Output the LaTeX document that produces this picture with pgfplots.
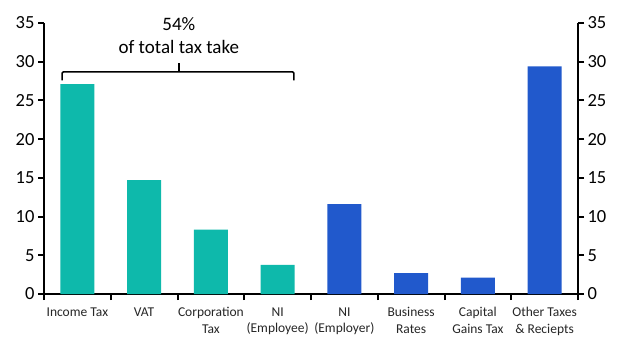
\documentclass[border=0pt]{standalone}
\usepackage{pgfplots}
\pgfplotsset{compat=1.18}
\usepackage{fontspec}
\setmainfont{Carlito}
\definecolor{tealbar}{RGB}{14,185,171}
\definecolor{bluebar}{RGB}{33,89,204}
\begin{document}
\begin{tikzpicture}
\useasboundingbox (0,0) rectangle (631pt,356pt);
\begin{axis}[
  at={(44pt,62pt)}, anchor=south west,
  scale only axis, width=534pt, height=271pt,
  xmin=-0.5, xmax=7.5, ymin=0, ymax=35,
  axis x line*=bottom, axis y line*=left,
  axis line style={line width=2.2pt, -},
  ytick={0,5,...,35},
  xtick={0,...,7},
  xticklabels={Income Tax, VAT, Corporation\\Tax, NI\\(Employee), NI\\(Employer), Business\\Rates, Capital\\Gains Tax, Other Taxes\\\& Reciepts},
  xticklabel style={align=center, font=\fontsize{13.5}{16.5}\selectfont, text=black!85, yshift=-4pt},
  yticklabel style={font=\fontsize{18.5}{20}\selectfont},
  /pgf/number format/assume math mode=true,
  major x tick style={draw=none},
  minor xtick={-0.5,0.5,...,7.5},
  tick style={line width=2pt, black},
  major tick length=6pt, minor tick length=6pt,
  tick align=outside,
  ybar, bar width=34pt, bar shift=0pt,
  clip=false,
]
\addplot[fill=tealbar, draw=none] coordinates {(0,27.1) (1,14.7) (2,8.3) (3,3.75)};
\addplot[fill=bluebar, draw=none] coordinates {(4,11.6) (5,2.7) (6,2.1) (7,29.4)};
\draw[line width=1.5pt, rounded corners=1.5pt] (axis cs:-0.23,27.6) -- (axis cs:-0.23,28.7) -- (axis cs:3.245,28.7) -- (axis cs:3.245,27.6);
\draw[line width=1.5pt] (axis cs:1.52,28.7) -- (axis cs:1.52,29.8);
\node[align=center, font=\fontsize{19}{23}\selectfont] at (axis cs:1.52,33.4) {54\%\\of total tax take};
\end{axis}
\begin{axis}[
  at={(44pt,62pt)}, anchor=south west,
  scale only axis, width=534pt, height=271pt,
  xmin=-0.5, xmax=7.5, ymin=0, ymax=35,
  axis x line=none, axis y line*=right,
  axis line style={line width=2.2pt, -},
  ytick={0,5,...,35},
  yticklabel style={font=\fontsize{18.5}{20}\selectfont},
  /pgf/number format/assume math mode=true,
  tick style={line width=2pt, black},
  major tick length=6pt,
  tick align=outside,
]
\end{axis}
\end{tikzpicture}
\end{document}
